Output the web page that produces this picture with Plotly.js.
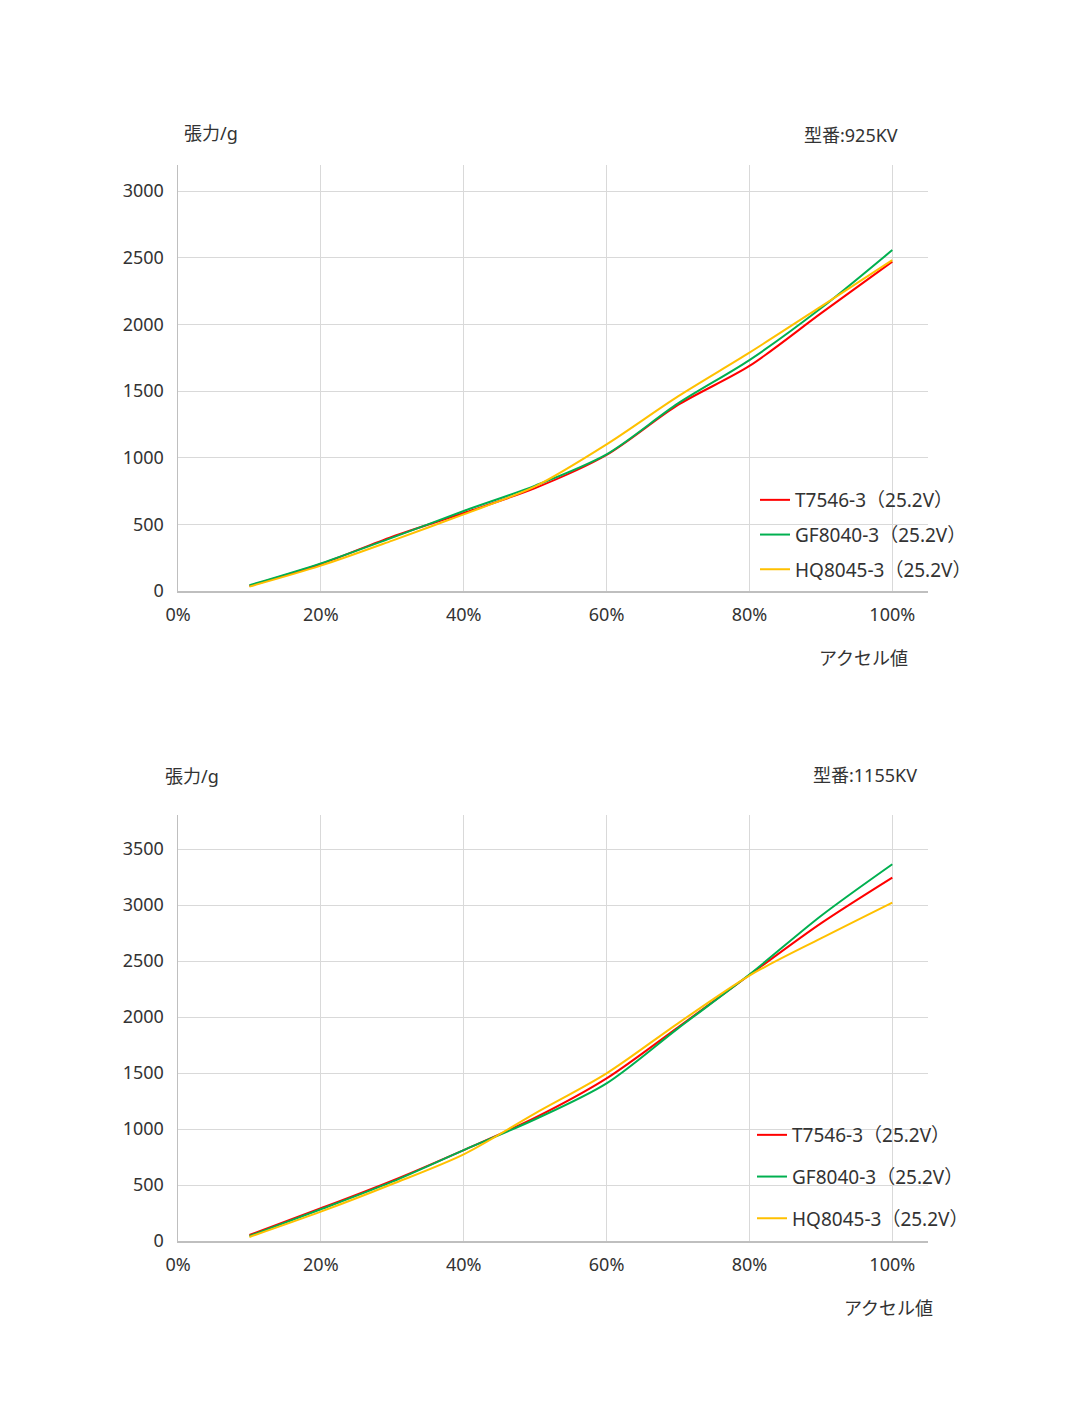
<!DOCTYPE html>
<html lang="ja">
<head>
    <meta charset="UTF-8">
    <title>張力</title>
    <script src="https://cdn.plot.ly/plotly-3.0.1.min.js"></script>
    <style>
        body { margin: 0; background: #fff; }
    </style>
</head>
<body>
<div id="plot"></div>
<script>
    let accel = [0.1, 0.2, 0.3, 0.4, 0.5, 0.6, 0.7, 0.8, 0.9, 1.0]
    let names = ["T7546-3（25.2V）", "GF8040-3（25.2V）", "HQ8045-3（25.2V）"]
    let colors = ["#ff0000", "#00b050", "#ffc000"]

    // 型番:925KV
    let kv925_t7546 = [38, 202, 408, 585, 772, 1020, 1395, 1688, 2082, 2470]
    let kv925_gf8040 = [43, 207, 400, 600, 790, 1025, 1407, 1732, 2120, 2557]
    let kv925_hq8045 = [33, 190, 378, 575, 785, 1100, 1460, 1788, 2133, 2482]

    // 型番:1155KV
    let kv1155_t7546 = [54, 292, 539, 812, 1101, 1452, 1908, 2375, 2836, 3245]
    let kv1155_gf8040 = [45, 283, 530, 812, 1087, 1408, 1899, 2380, 2902, 3364]
    let kv1155_hq8045 = [36, 262, 509, 774, 1140, 1497, 1944, 2370, 2702, 3022]

    let font = "Noto Sans, Noto Sans CJK JP, sans-serif"
    let W = 1076, H = 1422

    function px(x) { return x / W }
    function py(y) { return 1 - y / H }

    function line(y, i, xa, ya, leg) {
        return {
            x: accel, y: y, name: names[i],
            xaxis: xa, yaxis: ya, legend: leg, legendgroup: leg + i,
            type: "scatter", mode: "lines",
            line: {color: colors[i], width: 2, shape: "spline", smoothing: 0.85},
            hoverinfo: "x+y"
        }
    }

    let data = [
        line(kv925_t7546, 0, "x", "y", "legend"),
        line(kv925_gf8040, 1, "x", "y", "legend"),
        line(kv925_hq8045, 2, "x", "y", "legend"),
        line(kv1155_t7546, 0, "x2", "y2", "legend2"),
        line(kv1155_gf8040, 1, "x2", "y2", "legend2"),
        line(kv1155_hq8045, 2, "x2", "y2", "legend2")
    ]

    function xax(anchor) {
        return {
            anchor: anchor, domain: [px(178), px(928)],
            range: [0, 1.05], tickvals: [0, 0.2, 0.4, 0.6, 0.8, 1.0], tickformat: ".0%",
            showgrid: true, gridcolor: "#d9d9d9", gridwidth: 1,
            showline: true, linecolor: "#bfbfbf", linewidth: 1.5,
            zeroline: false, ticks: "", ticklabelstandoff: 7,
            tickfont: {size: 18, color: "#333", family: font}, fixedrange: true
        }
    }

    function yax(anchor, top, bottom, max) {
        return {
            anchor: anchor, domain: [py(bottom), py(top)],
            range: [0, max], dtick: 500,
            showgrid: true, gridcolor: "#d9d9d9", gridwidth: 1,
            showline: true, linecolor: "#bfbfbf", linewidth: 1.5,
            zeroline: false, ticks: "", ticklabelstandoff: 9,
            tickfont: {size: 18, color: "#333", family: font}, fixedrange: true
        }
    }

    function note(text, x, y, anchor) {
        return {
            text: text, xref: "paper", yref: "paper", x: px(x), y: py(y),
            xanchor: anchor, yanchor: "middle", showarrow: false,
            font: {size: 18, color: "#333", family: font}
        }
    }

    let layout = {
        width: W, height: H,
        margin: {l: 0, r: 0, t: 0, b: 0},
        paper_bgcolor: "#fff", plot_bgcolor: "#fff",
        font: {family: font, color: "#333", size: 18},
        xaxis: xax("y"),
        yaxis: yax("x", 165, 591, 3195),
        xaxis2: xax("y2"),
        yaxis2: yax("x2", 815, 1241, 3804),
        legend: {
            x: px(755), y: py(481), xanchor: "left", yanchor: "top",
            bgcolor: "rgba(0,0,0,0)", traceorder: "grouped", tracegroupgap: 7,
            font: {size: 19, color: "#333", family: font}
        },
        legend2: {
            x: px(752), y: py(1116), xanchor: "left", yanchor: "top",
            bgcolor: "rgba(0,0,0,0)", traceorder: "grouped", tracegroupgap: 14,
            font: {size: 19, color: "#333", family: font}
        },
        annotations: [
            note("張力/g", 182, 133, "left"),
            note("型番:925KV", 900, 135, "right"),
            note("アクセル値", 910, 658, "right"),
            note("張力/g", 163, 776, "left"),
            note("型番:1155KV", 919, 775, "right"),
            note("アクセル値", 935, 1308, "right")
        ]
    }

    Plotly.newPlot("plot", data, layout, {displayModeBar: false, staticPlot: true})
</script>
</body>
</html>
